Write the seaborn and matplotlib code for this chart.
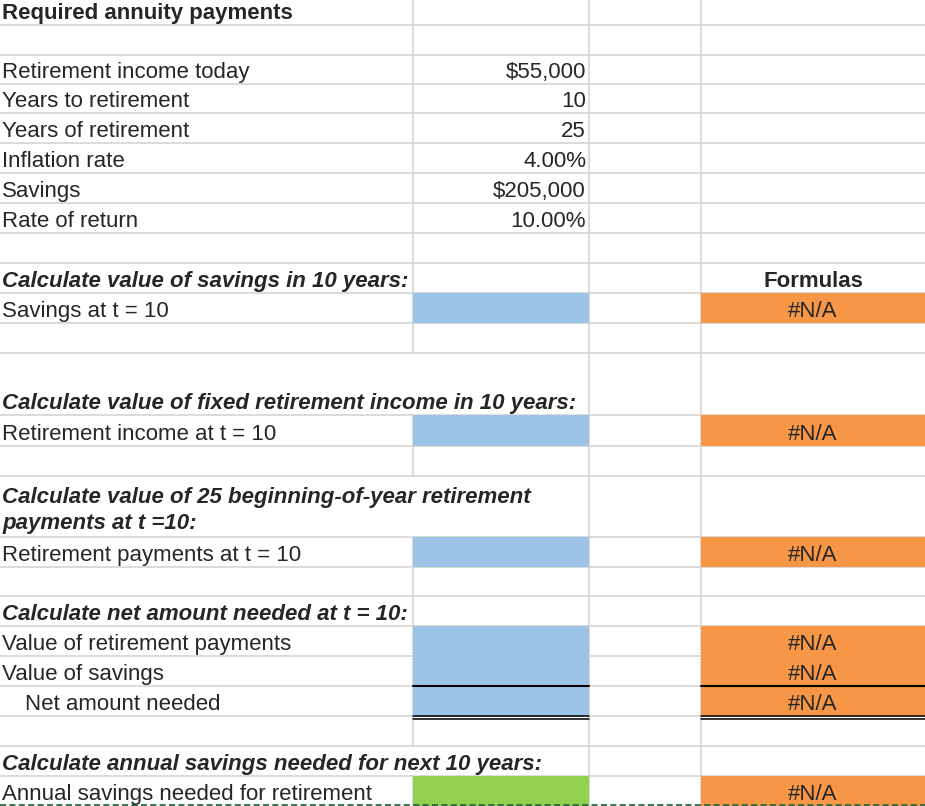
import matplotlib
matplotlib.use("Agg")
import matplotlib.pyplot as plt
import seaborn as sns

sns.set_theme(style="white")
plt.rcParams['font.family'] = ['Liberation Sans', 'DejaVu Sans']

# --- sheet layout (pixel grid of the spreadsheet) ---
col_edges = [0, 413, 589, 701, 925]
row_edges = [0, 25, 55, 84, 113, 143, 173, 203, 233, 263, 293, 323, 353,
             415, 446, 476, 537, 567, 596, 626, 656, 686, 716, 746, 776, 806]

# --- data ---
title = "Required annuity payments"
input_rows = [2, 3, 4, 5, 6, 7]
input_labels = ["Retirement income today", "Years to retirement", "Years of retirement",
                "Inflation rate", "Savings", "Rate of return"]
input_values = [55000, 10, 25, 0.04, 205000, 0.10]
input_formats = ["${:,.0f}", "{:d}", "{:d}", "{:.2%}", "${:,.0f}", "{:.2%}"]

header_rows = [9, 12, 15, 18, 23]
header_labels = ["Calculate value of savings in 10 years:",
                 "Calculate value of fixed retirement income in 10 years:",
                 "Calculate value of 25 beginning-of-year retirement\npayments at t =10:",
                 "Calculate net amount needed at t = 10:",
                 "Calculate annual savings needed for next 10 years:"]

result_rows = [10, 13, 16, 19, 20, 21, 24]
result_labels = ["Savings at t = 10", "Retirement income at t = 10",
                 "Retirement payments at t = 10", "Value of retirement payments",
                 "Value of savings", "Net amount needed",
                 "Annual savings needed for retirement"]
result_indent = [0, 0, 0, 0, 0, 1, 0]
formula_values = ["#N/A"] * 7
answer_colors = ["#9dc3e6"] * 6 + ["#92d050"]

overflow_rows = [12, 15, 23]   # text runs over into column B

grid_color = "#d4d4d4"
formula_color = "#f79646"
fs = 16.05

fig = plt.figure(figsize=(9.25, 8.06), dpi=100)
ax = fig.add_axes([0, 0, 1, 1])
ax.set_xlim(0, 925)
ax.set_ylim(806, 0)
ax.axis("off")

# gridlines
for y in row_edges[1:-1]:
    ax.plot([0, 925], [y, y], color=grid_color, lw=1.2, zorder=1)
for i in range(len(row_edges) - 1):
    y0, y1 = row_edges[i], row_edges[i + 1]
    for x in col_edges[1:-1]:
        if x == col_edges[1] and i in overflow_rows:
            continue
        ax.plot([x, x], [y0, y1], color=grid_color, lw=1.2, zorder=1)


def baseline(r, offset=6):
    return row_edges[r + 1] - offset


# fills for answer cells and formula cells
for r, c in zip(result_rows, answer_colors):
    ax.fill_between([col_edges[1], col_edges[2]], row_edges[r], row_edges[r + 1],
                    color=c, lw=0, zorder=2)
    ax.fill_between([col_edges[3], col_edges[4]], row_edges[r], row_edges[r + 1],
                    color=formula_color, lw=0, zorder=2)

# borders around the "net amount" total
for xa, xb in [(col_edges[1], col_edges[2]), (col_edges[3], col_edges[4])]:
    ax.plot([xa, xb], [686, 686], color="black", lw=1.5, zorder=3)
    ax.plot([xa, xb], [715.6, 715.6], color="black", lw=1.1, zorder=3)
    ax.plot([xa, xb], [719.2, 719.2], color="black", lw=1.1, zorder=3)

# dashed line at the bottom
ax.plot([0, 925], [804.5, 804.5], color="#2a6a3f", lw=1.3, ls=(0, (3.4, 1.8)), zorder=3)

# text
ax.text(2, 19, title, fontsize=fs, fontweight="bold", va="baseline", zorder=4)

for r, lab, v, f in zip(input_rows, input_labels, input_values, input_formats):
    ax.text(2, baseline(r), lab, fontsize=fs, va="baseline", zorder=4)
    ax.text(586, baseline(r), f.format(v), fontsize=fs, va="baseline", ha="right", zorder=4)

for r, lab in zip(header_rows, header_labels):
    lines = lab.split("\n")
    off = 6 if len(lines) == 1 else 8
    for j, line in enumerate(lines):
        ax.text(2, baseline(r, off) - (len(lines) - 1 - j) * 26, line, fontsize=fs,
                fontweight="bold", fontstyle="italic", va="baseline", zorder=4)

ax.text(813, baseline(9), "Formulas", fontsize=fs, fontweight="bold",
        va="baseline", ha="center", zorder=4)

for r, lab, ind, val in zip(result_rows, result_labels, result_indent, formula_values):
    ax.text(2 + 23 * ind, baseline(r), lab, fontsize=fs, va="baseline", zorder=4)
    ax.text(813, baseline(r), val, fontsize=fs, va="baseline", ha="center", zorder=4)

fig.savefig("out.png", dpi=100)
